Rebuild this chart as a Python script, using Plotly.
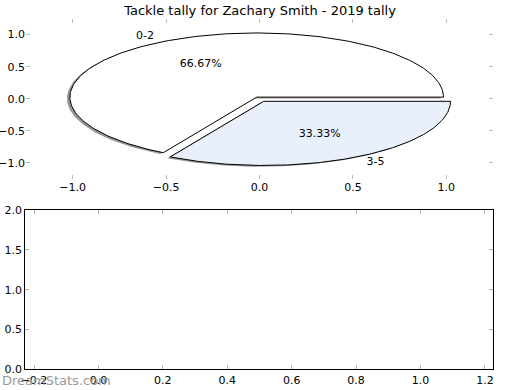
import numpy as np
import plotly.graph_objects as go

# ---- data ----
categories = ["0-2", "3-5"]
values = [2, 1]
explode = [0.03, 0.045]
slice_colors = ["#ffffff", "#e9f0fc"]
title = "Tackle tally for Zachary Smith - 2019 tally"
top_ticks = [-1.0, -0.5, 0.0, 0.5, 1.0]
bottom_xticks = [-0.2, 0.0, 0.2, 0.4, 0.6, 0.8, 1.0, 1.2]
bottom_yticks = [0.0, 0.5, 1.0, 1.5, 2.0]

FONT = "DejaVu Sans"
fig = go.Figure()

total = float(sum(values))
fracs = [v / total for v in values]

# compute wedge geometry (matplotlib-like: start at 0 deg, counter-clockwise)
wedges = []
theta0 = 0.0
for cat, f, ex, col in zip(categories, fracs, explode, slice_colors):
    theta1 = theta0 + 360.0 * f
    mid = np.deg2rad((theta0 + theta1) / 2)
    cx, cy = ex * np.cos(mid), ex * np.sin(mid)
    t = np.deg2rad(np.linspace(theta0, theta1, 200))
    xs = np.concatenate([[cx], cx + np.cos(t), [cx]])
    ys = np.concatenate([[cy], cy + np.sin(t), [cy]])
    wedges.append(dict(cat=cat, f=f, mid=mid, cx=cx, cy=cy, xs=xs, ys=ys, col=col))
    theta0 = theta1

# shadows
for w in wedges:
    fig.add_trace(go.Scatter(x=w["xs"] - 0.016, y=w["ys"] - 0.02, mode="lines",
                             fill="toself", fillcolor="rgba(80,80,80,0.6)",
                             line=dict(width=0), hoverinfo="skip", showlegend=False,
                             xaxis="x", yaxis="y"))
# wedges
for w in wedges:
    fig.add_trace(go.Scatter(x=w["xs"], y=w["ys"], mode="lines", fill="toself",
                             fillcolor=w["col"], line=dict(color="black", width=1),
                             hoverinfo="skip", showlegend=False, xaxis="x", yaxis="y"))

# labels
for w in wedges:
    lx = w["cx"] + 1.1 * np.cos(w["mid"])
    ly = w["cy"] + 1.1 * np.sin(w["mid"])
    pos = "middle left" if lx < 0 else "middle right"
    fig.add_trace(go.Scatter(x=[lx], y=[ly], mode="text", text=[w["cat"]],
                             textposition=pos, textfont=dict(family=FONT, size=11, color="black"),
                             hoverinfo="skip", showlegend=False, xaxis="x", yaxis="y"))
    px_ = w["cx"] + 0.6 * np.cos(w["mid"])
    py_ = w["cy"] + 0.6 * np.sin(w["mid"])
    fig.add_trace(go.Scatter(x=[px_], y=[py_], mode="text", text=["%.2f%%" % (w["f"] * 100)],
                             textposition="middle center",
                             textfont=dict(family=FONT, size=11, color="black"),
                             hoverinfo="skip", showlegend=False, xaxis="x", yaxis="y"))

# empty bottom axes
fig.add_trace(go.Scatter(x=[None], y=[None], mode="markers", showlegend=False,
                         xaxis="x2", yaxis="y2"))

tickfont = dict(family=FONT, size=11, color="black")
common = dict(tickformat=".1f", ticks="inside", ticklen=4, tickcolor="#bbbbbb",
              showgrid=False, zeroline=False, tickfont=tickfont, automargin=False,
              fixedrange=True)
fig.update_layout(
    width=520, height=390,
    margin=dict(l=0, r=0, t=0, b=0),
    paper_bgcolor="white", plot_bgcolor="white",
    showlegend=False,
    title=dict(text=title, x=0.5, xanchor="center", y=1 - 10 / 390, yanchor="middle",
               font=dict(family=FONT, size=13, color="black"), automargin=False),
    xaxis=dict(domain=[26 / 520, 493 / 520], range=[-1.25, 1.25], tickvals=top_ticks,
               showline=False, mirror="ticks", anchor="y", **common),
    yaxis=dict(domain=[1 - 179 / 390, 1 - 18.6 / 390], range=[-1.25, 1.25], tickvals=top_ticks,
               showline=False, mirror="ticks", anchor="x", **common),
    xaxis2=dict(domain=[25.3 / 520, 493.3 / 520], range=[-0.227, 1.226], tickvals=bottom_xticks,
                showline=True, linecolor="black", linewidth=1, mirror="ticks",
                anchor="y2", **common),
    yaxis2=dict(domain=[1 - 369.3 / 390, 1 - 210 / 390], range=[0, 2], tickvals=bottom_yticks,
                showline=True, linecolor="black", linewidth=1, mirror="ticks",
                anchor="x2", **common),
    annotations=[dict(text="DreamStats.com", xref="paper", yref="paper", x=0, y=1 - 380 / 390,
                      xanchor="left", yanchor="middle", showarrow=False,
                      font=dict(family=FONT, size=13, color="#999999"))],
)

fig.write_html("out.html", config={"displayModeBar": False},
               post_script="document.body.style.margin='0';document.body.style.overflow='hidden';")
